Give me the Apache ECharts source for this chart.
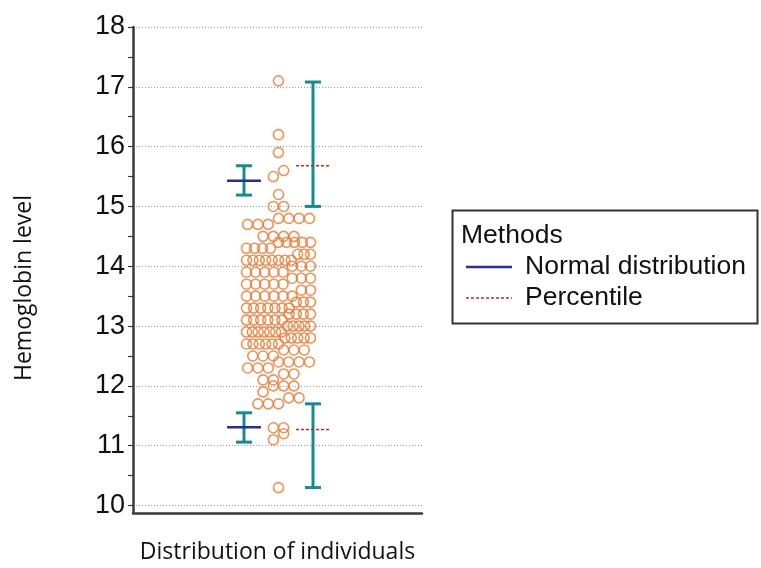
<!DOCTYPE html>
<html><head><meta charset="utf-8">
<script src="https://cdn.jsdelivr.net/npm/echarts@6/dist/echarts.min.js"></script>
<style>html,body{margin:0;padding:0;background:#fff}#c{width:761px;height:568px}</style>
</head><body><div id="c"></div>
<script>
// ---- data ----
const levels = [17.1,16.2,15.9,15.6,15.5,15.2,15.0,14.8,14.7,14.5,14.4,14.3,14.2,14.1,14.0,13.9,13.8,13.7,13.6,13.5,13.4,13.3,13.2,13.1,13.0,12.9,12.8,12.7,12.6,12.5,12.4,12.3,12.2,12.1,12.0,11.9,11.8,11.7,11.3,11.2,11.1,10.3];
const counts = [1,1,1,1,1,1,2,4,3,4,5,4,3,8,3,5,3,5,2,6,3,7,4,6,5,7,5,6,3,3,4,3,2,2,3,1,2,3,2,1,1,1];
const yTicks = [10,11,12,13,14,15,16,17,18];
const yHalfTicks = [10,10.5,11,11.5,12,12.5,13,13.5,14,14.5,15,15.5,16,16.5,17,17.5,18];
// [low, high, estimate]
const normalLimits = [[15.19,15.68,15.43],[11.06,11.55,11.31]];
const percentileLimits = [[15.00,17.08,15.68],[10.30,11.70,11.27]];
const legendTitle = 'Methods';
const legendNames = ['Normal distribution','Percentile'];
const xTitle = 'Distribution of individuals';
const yTitle = 'Hemoglobin level';

// ---- layout ----
const X_MAX = 289;
const SWARM_CENTER = 145.5, SWARM_MAX_W = 64, SWARM_STEP = 10.3;
const NORMAL_X = 111, PCT_X = 180;
const TEAL = '#168C90', BLUE = '#2B2C9B', RED = '#A8322D', ORANGE = '#E8772E';

const binCount = {};
levels.forEach((v,i)=>{ binCount[Math.round(v*10)] = counts[i]; });
const dots = [];
const done = new Set();
Object.keys(binCount).map(Number).sort((a,b)=>a-b).forEach(t=>{
  const lo = (t % 2) ? t : t - 1;
  if (done.has(lo)) return; done.add(lo);
  const members = [];
  [lo, lo+1].forEach(b=>{ for (let k=0;k<(binCount[b]||0);k++) members.push(b/10); });
  const n = members.length;
  const step = n>1 ? Math.min(SWARM_STEP, SWARM_MAX_W/(n-1)) : 0;
  const x0 = SWARM_CENTER - step*(n-1)/2;
  members.forEach((v,k)=>dots.push([x0 + k*step, v]));
});

function limitSeries(name, rows, xPos, capHalf, midHalf, midStyle, z){
  return {
    type:'custom', name, z,
    data: rows.map(r=>[xPos, r[0], r[1], r[2]]),
    encode:{x:0, y:[1,2,3]},
    renderItem:(params, api)=>{
      const x = api.value(0);
      const pLo = api.coord([x, api.value(1)]);
      const pHi = api.coord([x, api.value(2)]);
      const pMid = api.coord([x, api.value(3)]);
      const ts = {stroke:TEAL, lineWidth:3};
      return {type:'group', children:[
        {type:'line', shape:{x1:pLo[0], y1:pLo[1], x2:pHi[0], y2:pHi[1]}, style:ts},
        {type:'line', shape:{x1:pLo[0]-capHalf, y1:pLo[1], x2:pLo[0]+capHalf, y2:pLo[1]}, style:ts},
        {type:'line', shape:{x1:pHi[0]-capHalf, y1:pHi[1], x2:pHi[0]+capHalf, y2:pHi[1]}, style:ts},
        {type:'line', shape:{x1:pMid[0]-midHalf, y1:pMid[1], x2:pMid[0]+midHalf, y2:pMid[1]}, style:midStyle}
      ]};
    }
  };
}

const chart = echarts.init(document.getElementById('c'));
const tickFont = {fontFamily:'Liberation Sans', fontSize:27, color:'#111'};
const legendFont = {fontFamily:'Liberation Sans', fontSize:26.5, fill:'#111', verticalAlign:'middle'};
chart.setOption({
  animation:false,
  backgroundColor:'#fff',
  grid:{left:133, top:27, width:X_MAX, height:486, containLabel:false, outerBoundsMode:'none'},
  xAxis:{type:'value', min:0, max:X_MAX,
    axisLine:{show:true, lineStyle:{color:'#3a3a3a', width:2.5}},
    axisTick:{show:false}, axisLabel:{show:false}, splitLine:{show:false},
    name:xTitle, nameLocation:'middle', nameGap:28,
    nameTextStyle:{fontFamily:'Open Sans', fontSize:23, color:'#111'}},
  yAxis:[
    {type:'value', min:9.875, max:18, position:'left',
      axisLine:{show:true, lineStyle:{color:'#3a3a3a', width:2.5}},
      axisTick:{show:true, length:5, customValues:yHalfTicks, lineStyle:{color:'#3a3a3a', width:1.2}},
      axisLabel:{customValues:yTicks, margin:8, ...tickFont},
      splitLine:{show:false}},
    {type:'value', min:9.875, max:18, position:'left',
      axisLine:{show:false}, axisLabel:{show:false},
      axisTick:{show:false, customValues:yTicks},
      splitLine:{show:true, lineStyle:{color:'#9a9a9a', width:1, type:[1,2]}}}
  ],
  series:[
    {type:'scatter', name:'Individuals', data:dots, symbol:'circle', symbolSize:10,
      itemStyle:{color:'rgba(255,255,255,0)', borderColor:ORANGE, borderWidth:1.6}, z:3},
    limitSeries(legendNames[0], normalLimits, NORMAL_X, 8, 17, {stroke:BLUE, lineWidth:2.5}, 4),
    limitSeries(legendNames[1], percentileLimits, PCT_X, 8, 17, {stroke:RED, lineWidth:1.5, lineDash:[3,2]}, 4)
  ],
  graphic:[
    {type:'text', x:24, y:288, rotation:Math.PI/2,
      style:{text:yTitle, fontFamily:'Open Sans', fontSize:23, fill:'#111', align:'center', verticalAlign:'middle'}},
    {type:'group', children:[
      {type:'rect', shape:{x:452.5, y:210.5, width:305, height:113},
        style:{fill:'#fff', stroke:'#333', lineWidth:2}},
      {type:'text', x:461, y:236, style:{text:legendTitle, ...legendFont}},
      {type:'line', shape:{x1:466, y1:267, x2:512, y2:267}, style:{stroke:BLUE, lineWidth:2.5}},
      {type:'text', x:525, y:267, style:{text:legendNames[0], ...legendFont}},
      {type:'line', shape:{x1:466, y1:298, x2:512, y2:298}, style:{stroke:RED, lineWidth:1.5, lineDash:[3,2]}},
      {type:'text', x:525, y:298, style:{text:legendNames[1], ...legendFont}}
    ]}
  ]
});
</script></body></html>
